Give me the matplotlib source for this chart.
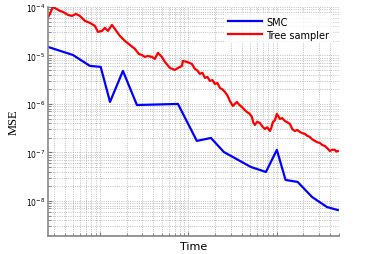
import numpy as np
import matplotlib.pyplot as plt

# SMC error curve
smc_time = [2.58, 4.96, 7.71, 10.2, 13.0, 18.2, 26.2, 76.2, 124.6, 179.8, 252,
            508, 752, 1000, 1254, 1716, 2496, 3686, 4884]
smc_mse = [1.50e-5, 1.02e-5, 6.08e-6, 5.80e-6, 1.10e-6, 4.79e-6, 9.5e-7, 1.0e-6,
           1.73e-7, 1.99e-7, 1.02e-7, 5.02e-8, 3.96e-8, 1.13e-7, 2.71e-8,
           2.47e-8, 1.21e-8, 7.5e-9, 6.5e-9]

# Tree sampler error curve
tree_time = [2.58, 2.95, 3.53, 3.82, 4.36, 4.83, 5.36, 5.94, 6.77, 7.71, 8.78,
             9.49, 10.53, 11.38, 12.32, 13.67, 14.76, 16.82, 19.15, 21.82,
             24.87, 27.59, 29.83, 32.26, 34.86, 38.69, 41.82, 45.24, 50.18,
             54.29, 61.80, 70.38, 76.12, 84.51, 86.67, 96.16, 109.6, 118.4,
             126, 134.9, 144, 153.7, 164, 175, 187, 199.2, 213, 227, 242, 258.5,
             276, 294.5, 318.3, 335, 353.2, 378, 402.3, 430, 458.2, 490, 522,
             540, 564.2, 600, 642.7, 690, 731.9, 780, 833.6, 865, 901.2, 950,
             1000, 1040, 1081, 1150, 1231, 1310, 1403, 1500, 1598, 1700, 1820,
             1940, 2071, 2210, 2359, 2520, 2686, 2870, 3063, 3270, 3486, 3720,
             3972, 4240, 4524, 4700, 4893]
tree_mse = [5.93e-5, 1.0e-4, 8.27e-5, 7.88e-5, 6.84e-5, 6.52e-5, 7.17e-5, 6.52e-5,
            5.14e-5, 4.68e-5, 4.06e-5, 3.05e-5, 3.20e-5, 3.69e-5, 3.20e-5,
            4.25e-5, 3.52e-5, 2.52e-5, 1.99e-5, 1.65e-5, 1.36e-5, 1.07e-5,
            1.02e-5, 9.31e-6, 9.76e-6, 9.31e-6, 8.47e-6, 1.13e-5, 9.31e-6,
            7.34e-6, 5.52e-6, 5.02e-6, 5.52e-6, 6.07e-6, 7.70e-6, 7.34e-6,
            6.68e-6, 5.27e-6, 4.9e-6, 4.16e-6, 4.4e-6, 3.44e-6, 3.6e-6, 2.98e-6,
            3.1e-6, 2.58e-6, 2.7e-6, 2.14e-6, 2.0e-6, 1.77e-6, 1.5e-6, 1.15e-6,
            9.1e-7, 1.0e-6, 1.10e-6, 9.5e-7, 8.67e-7, 7.6e-7, 6.84e-7, 6.3e-7,
            5.40e-7, 4.2e-7, 3.69e-7, 4.3e-7, 4.06e-7, 3.4e-7, 3.05e-7, 3.3e-7,
            2.77e-7, 3.2e-7, 4.25e-7, 4.6e-7, 6.22e-7, 5.6e-7, 4.91e-7, 5.1e-7,
            4.46e-7, 4.2e-7, 3.87e-7, 3.0e-7, 2.77e-7, 2.9e-7, 2.65e-7, 2.5e-7,
            2.41e-7, 2.2e-7, 2.09e-7, 1.85e-7, 1.73e-7, 1.62e-7, 1.57e-7,
            1.42e-7, 1.36e-7, 1.22e-7, 1.07e-7, 1.14e-7, 1.13e-7, 1.04e-7,
            1.07e-7]

fig = plt.figure(figsize=(3.74, 2.55), dpi=100)
ax = fig.add_axes([0.128, 0.071, 0.778, 0.898])

ax.plot(smc_time, smc_mse, color="blue", lw=1.6, label="SMC")
ax.plot(tree_time, tree_mse, color="red", lw=1.6, label="Tree sampler")

ax.set_xscale("log")
ax.set_yscale("log")
ax.set_xlim(2.58, 5020)
ax.set_ylim(10**-8.72, 1e-4)

ax.grid(True, which="both", linestyle=":", color="#aaaaaa", lw=0.6)
ax.set_xticks([10, 100, 1000])
ax.set_xticklabels([])
ax.set_xticklabels([], minor=True)
ax.set_yticks([1e-8, 1e-7, 1e-6, 1e-5, 1e-4])
ax.tick_params(which="both", direction="in", labelsize=5.5, color="#777777",
               pad=2)
ax.tick_params(which="minor", length=2)
ax.tick_params(which="major", length=3)

for side in ["top", "right"]:
    ax.spines[side].set_visible(False)
for side in ["left", "bottom"]:
    ax.spines[side].set_color("#888888")
    ax.spines[side].set_linewidth(1.2)

ax.set_xlabel("Time", fontsize=8, labelpad=2)
ax.set_ylabel("MSE", fontsize=9, family="Liberation Serif", labelpad=4)

leg = ax.legend(loc="upper right", fontsize=7, frameon=True, fancybox=False,
                handlelength=3.5, borderaxespad=0.6, handletextpad=0.4,
                labelspacing=0.3)
leg.get_frame().set_edgecolor("none")

fig.savefig("out.png", dpi=100)
